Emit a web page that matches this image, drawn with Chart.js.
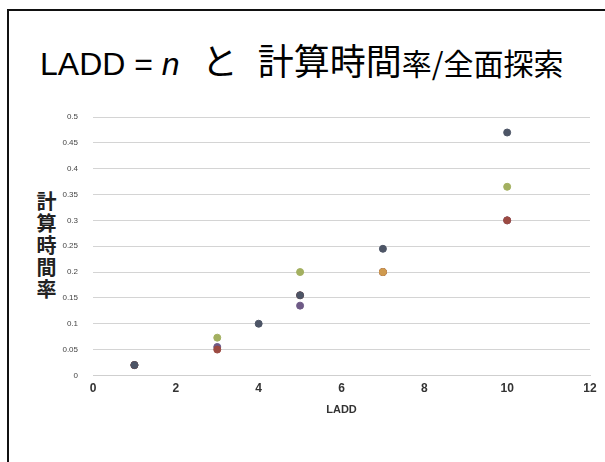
<!DOCTYPE html>
<html>
<head>
<meta charset="utf-8">
<script src="https://cdn.jsdelivr.net/npm/chart.js@4/dist/chart.umd.min.js"></script>
<style>
  html, body { margin: 0; padding: 0; background: #fff; }
  body { width: 605px; height: 462px; position: relative; overflow: hidden; }
  .frame {
    position: absolute; left: 7px; top: 9px; width: 640px; height: 500px;
    border-left: 2px solid #111; border-top: 2px solid #111;
  }
  .title {
    position: absolute; left: 40px; top: 33px; white-space: nowrap;
    font-family: "Liberation Sans", "Noto Sans CJK JP", sans-serif; color: #000;
  }
  .title .big { font-size: 32px; }
  .title .jp { font-family: "Noto Sans CJK JP", sans-serif; font-size: 36px; }
  .title .small { font-family: "Noto Sans CJK JP", sans-serif; font-size: 30px; }
  .ytitle {
    position: absolute; left: 36px; top: 191px;
    writing-mode: vertical-rl; font-family: "Noto Sans CJK JP", sans-serif;
    font-weight: bold; font-size: 20px; line-height: 20px; letter-spacing: 2px; color: #222;
  }
  #chart { position: absolute; left: 0; top: 0; }
</style>
</head>
<body>
<div class="frame"></div>
<div class="title"><span class="big">LADD = <i>n</i></span><span class="jp" style="margin-left:22px">と</span><span class="jp" style="margin-left:20px">計算時間</span><span class="small">率/全面探索</span></div>
<div class="ytitle">計算時間率</div>
<canvas id="chart" width="605" height="462"></canvas>
<script>
// values
const seriesA = [[1, 0.02], [4, 0.1], [5, 0.155], [7, 0.245], [10, 0.47]];
const seriesB = [[1, 0.02], [3, 0.05], [5, 0.155], [7, 0.2], [10, 0.3]];
const seriesC = [[1, 0.02], [3, 0.073], [5, 0.2], [7, 0.2], [10, 0.365]];
const seriesD = [[1, 0.02], [3, 0.055], [5, 0.135], [7, 0.2], [10, 0.3]];
const seriesE = [[7, 0.2]];
const colors = ["#4d5566", "#9c4a42", "#a3b060", "#6e5a86", "#cf9a4e"];
const xTicks = [0, 2, 4, 6, 8, 10, 12];
const yTicks = [0, 0.05, 0.1, 0.15, 0.2, 0.25, 0.3, 0.35, 0.4, 0.45, 0.5];

const toPoints = (arr) => arr.map((p) => ({ x: p[0], y: p[1] }));

// Chart.js paints the first dataset last, so the first one here ends up on top
const order = [
  [seriesA, colors[0]],
  [seriesE, colors[4]],
  [seriesB, colors[1]],
  [seriesD, colors[3]],
  [seriesC, colors[2]],
];

const datasets = order.map(([s, c]) => ({
  data: toPoints(s),
  backgroundColor: c,
  borderColor: c,
  pointRadius: 3.5,
  borderWidth: 1,
}));

new Chart(document.getElementById("chart"), {
  type: "scatter",
  data: { datasets: datasets },
  options: {
    responsive: false,
    animation: false,
    layout: { padding: { top: 117, right: 15, bottom: 41, left: 0 } },
    plugins: { legend: { display: false }, tooltip: { enabled: false } },
    scales: {
      x: {
        min: 0,
        max: 12,
        afterBuildTicks: (axis) => { axis.ticks = xTicks.map((v) => ({ value: v })); },
        grid: { display: false, drawTicks: false },
        border: { display: true, color: "#cfcfcf" },
        ticks: {
          padding: 6,
          color: "#333",
          font: { family: "Liberation Sans", size: 12, weight: "bold" },
        },
        title: {
          display: true,
          text: "LADD",
          color: "#333",
          padding: { top: 2, bottom: 4 },
          font: { family: "Liberation Sans", size: 11, weight: "bold" },
        },
      },
      y: {
        min: 0,
        max: 0.5,
        afterBuildTicks: (axis) => { axis.ticks = yTicks.map((v) => ({ value: v })); },
        afterFit: (axis) => { axis.width = 93; },
        grid: { color: "#d4d4d4", drawTicks: false },
        border: { display: false },
        ticks: {
          padding: 15,
          color: "#444",
          font: { family: "Liberation Sans", size: 8 },
          callback: (v) => String(v),
        },
      },
    },
  },
});
</script>
</body>
</html>
